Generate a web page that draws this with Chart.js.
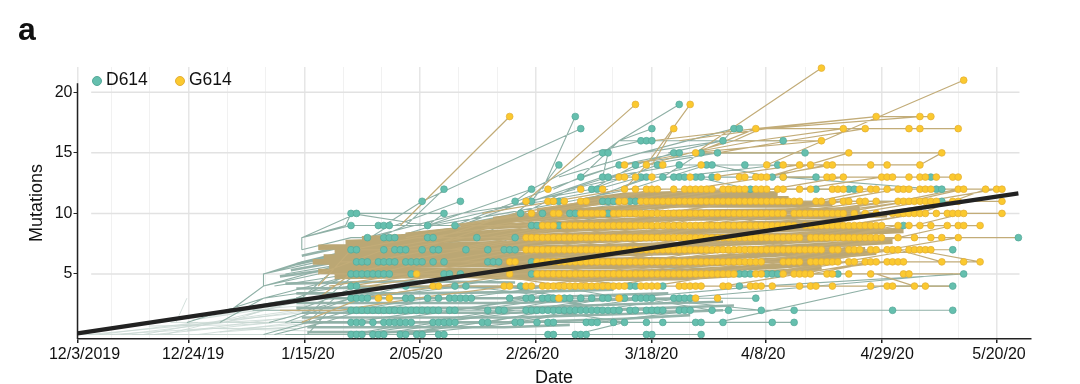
<!DOCTYPE html>
<html>
<head>
<meta charset="utf-8">
<script src="https://cdn.jsdelivr.net/npm/chart.js@4"></script>
<style>
  html, body { margin: 0; background: #fff; }
  body { width: 1080px; height: 384px; overflow: hidden; position: relative; font-family: "Liberation Sans", sans-serif; color: #111; }
  #wrap { position: absolute; left: 0; top: 0; width: 1080px; height: 384px; }
  #panel { position: absolute; left: 18px; top: 10px; font-size: 32px; font-weight: bold; line-height: 38px; }
  .key { position: absolute; top: 69px; font-size: 17.5px; line-height: 21px; }
  .dot { position: absolute; top: 75.5px; width: 8px; height: 8px; border-radius: 50%; border-width: 0.8px; border-style: solid; }
</style>
</head>
<body>
<div id="wrap"><canvas id="chart" width="1080" height="384"></canvas></div>
<div id="panel">a</div>
<div class="dot" style="left:91.5px;background:#65bfae;border-color:#55a898"></div>
<div class="key" style="left:106px">D614</div>
<div class="dot" style="left:174.5px;background:#fbc92f;border-color:#e3ad35"></div>
<div class="key" style="left:189px">G614</div>
<script>
// axis
const xTickDays = [0, 6.2, 13.2, 20.4, 27.4, 34.4, 41.5, 48.6, 55.6, 62.6, 69.6, 76.7, 83.7, 90.8, 97.8, 104.9, 111.9, 118.9, 125.9, 133, 140, 147, 154, 161, 168.1];
const xTickLabels = ['12/3/2019', '', '', '12/24/19', '', '', '1/15/20', '', '', '2/05/20', '', '', '2/26/20', '', '', '3/18/20', '', '', '4/8/20', '', '', '4/29/20', '', '', '5/20/20'];
const xLabelNudge = [7, 0, 0, 4, 0, 0, 3.5, 0, 0, -4, 0, 0, -3, 0, 0, 0, 0, 0, -3, 0, 0, 5.5, 0, 0, 2];
const yTicks = [5, 10, 15, 20];

// trend line
const trendDays = [0, 172];
const trendMutations = [0.1, 11.66];

// sampled genomes, one list of days per mutation count (index = mutations)
const d614Days = [
  [50, 51, 52, 54, 55, 56, 59, 60, 62, 63, 66, 67, 86, 87, 91, 92, 93, 104, 105, 114],
  [50, 51, 52, 54, 56, 57, 58, 59, 60, 61, 65, 66, 67, 68, 69, 74, 75, 80, 81, 84, 86, 87, 93, 94, 95, 98, 100, 104, 107, 113, 114, 118, 127, 131],
  [50, 51, 52, 53, 54, 55, 56, 57, 58, 59, 60, 61, 62, 63, 64, 65, 66, 68, 69, 75, 77, 78, 82, 83, 84, 85, 86, 87, 88, 89, 90, 91, 92, 93, 94, 95, 96, 97, 98, 99, 101, 102, 104, 105, 106, 107, 110, 111, 112, 116, 119, 125, 131, 149, 160],
  [50, 51, 52, 53, 60, 61, 64, 66, 68, 69, 70, 71, 72, 79, 82, 83, 85, 86, 87, 89, 90, 92, 94, 96, 97, 100, 102, 103, 104, 105, 109, 110, 111, 112, 124],
  [50, 51, 60, 69, 71, 81, 101, 102, 107, 121, 160],
  [50, 51, 52, 53, 54, 55, 56, 57, 61, 67, 68, 70, 83, 121, 122, 123, 126, 127, 128, 139, 162],
  [51, 52, 53, 55, 56, 57, 58, 60, 61, 62, 63, 65, 67, 75, 76, 77, 83],
  [50, 51, 56, 58, 59, 60, 63, 65, 66, 71, 75, 78, 79, 80, 160],
  [53, 56, 57, 58, 64, 65, 73, 80, 172],
  [50, 55, 56, 57, 64, 69, 83, 84, 88, 151],
  [50, 51, 67, 81, 85, 90, 91, 97],
  [63, 70, 80, 83, 88, 96, 97, 98, 101, 102, 158],
  [67, 83, 94, 95, 123, 135, 141, 142, 157, 158],
  [92, 96, 97, 103, 104, 107, 109, 110, 111, 113, 114, 116, 127, 129, 135, 156],
  [88, 99, 102, 106, 110, 115, 116, 122, 128],
  [96, 97, 109, 110, 114, 117, 133],
  [103, 104, 105, 118, 129],
  [92, 105, 120, 121],
  [91],
  [110]
];
const g614Days = [
  [],
  [],
  [],
  [55, 57, 88, 99, 113, 117],
  [65, 66, 78, 79, 82, 83, 85, 86, 87, 88, 89, 90, 91, 92, 93, 94, 95, 96, 97, 98, 99, 100, 103, 104, 105, 106, 110, 111, 112, 113, 114, 118, 119, 123, 124, 125, 127, 132, 134, 135, 138, 145, 148, 149, 153, 155],
  [62, 79, 84, 85, 86, 87, 88, 89, 90, 91, 92, 93, 94, 95, 96, 97, 98, 99, 100, 101, 102, 103, 104, 105, 106, 107, 108, 109, 110, 111, 112, 113, 114, 115, 116, 117, 118, 119, 120, 124, 125, 129, 131, 132, 133, 134, 137, 138, 141, 145, 151, 152],
  [79, 80, 84, 85, 86, 87, 88, 89, 90, 91, 92, 93, 94, 95, 96, 97, 98, 99, 100, 101, 102, 103, 104, 105, 106, 107, 108, 109, 110, 111, 112, 113, 114, 115, 116, 117, 118, 119, 120, 121, 122, 123, 124, 125, 129, 130, 131, 132, 134, 135, 136, 137, 138, 139, 141, 142, 144, 145, 146, 148, 149, 150, 151, 158, 162, 165],
  [82, 83, 84, 85, 86, 87, 88, 89, 90, 91, 92, 93, 94, 95, 96, 97, 98, 99, 100, 101, 102, 103, 104, 105, 106, 107, 108, 109, 110, 111, 112, 113, 114, 115, 116, 117, 118, 119, 120, 121, 122, 123, 124, 125, 126, 127, 128, 129, 130, 131, 132, 133, 134, 135, 136, 138, 139, 141, 142, 143, 145, 146, 148, 149, 150, 152, 153, 154, 155, 156],
  [82, 83, 84, 85, 86, 87, 88, 89, 90, 91, 92, 93, 94, 95, 96, 97, 98, 99, 100, 101, 102, 103, 104, 105, 106, 107, 108, 109, 110, 111, 112, 113, 114, 115, 116, 117, 118, 119, 120, 121, 122, 123, 124, 125, 126, 127, 128, 129, 130, 131, 132, 134, 135, 136, 137, 138, 139, 140, 141, 142, 143, 144, 145, 146, 147, 150, 153, 156, 158, 161],
  [85, 86, 87, 89, 90, 91, 92, 93, 94, 95, 96, 97, 98, 99, 100, 101, 102, 103, 104, 105, 106, 107, 108, 109, 110, 111, 112, 113, 114, 115, 116, 117, 118, 119, 120, 121, 122, 123, 124, 125, 126, 127, 128, 129, 130, 131, 133, 134, 135, 136, 137, 138, 139, 140, 141, 142, 143, 144, 145, 146, 147, 150, 152, 154, 156, 159, 161, 162, 165],
  [83, 87, 88, 92, 93, 94, 95, 96, 98, 99, 100, 101, 102, 103, 104, 105, 106, 107, 108, 109, 110, 111, 112, 113, 114, 115, 116, 117, 118, 119, 120, 121, 122, 123, 124, 125, 126, 127, 128, 129, 131, 132, 133, 134, 135, 136, 137, 138, 139, 140, 142, 144, 146, 149, 150, 151, 152, 153, 154, 155, 157, 159, 160, 161, 162, 169],
  [82, 86, 87, 89, 92, 93, 99, 100, 103, 104, 105, 106, 107, 108, 109, 110, 111, 112, 113, 114, 115, 116, 117, 118, 119, 120, 121, 122, 123, 124, 125, 126, 127, 128, 129, 130, 131, 132, 135, 136, 138, 140, 141, 143, 144, 146, 150, 151, 152, 153, 154, 155, 156, 157, 160, 161, 169],
  [86, 92, 96, 100, 102, 104, 105, 106, 109, 111, 112, 113, 114, 115, 116, 118, 119, 120, 121, 122, 124, 125, 126, 128, 129, 132, 134, 138, 139, 140, 143, 145, 146, 148, 150, 151, 152, 154, 155, 156, 161, 162, 166, 168, 169],
  [99, 100, 102, 105, 112, 117, 121, 122, 124, 125, 126, 129, 137, 138, 140, 147, 148, 149, 152, 154, 155, 157, 160, 161],
  [100, 104, 107, 114, 126, 129, 132, 134, 137, 138, 145, 148, 154],
  [113, 141, 158],
  [136],
  [109, 124, 140, 144, 152, 154, 161],
  [79, 146, 154, 156],
  [102, 112],
  [],
  [162],
  [136]
];

// ancestry links as [day, mutations, day, mutations, ...] paths
const paleLinks = [
  [0, 0, 30, 0, 50, 0], [2, 0, 26, 1, 41, 1], [10, 0, 41, 0], [14, 0, 36, 1], [18, 1, 20, 3], [15, 1, 28, 2],
  [12, 0, 24, 1, 40, 2], [4, 0, 22, 1], [8, 0, 27, 1, 41, 3], [16, 0, 34, 2, 41, 2], [22, 0, 40, 1], [17, 1, 30, 1, 42, 1],
  [6, 0, 24, 0.5, 40, 0.5], [20, 0.3, 40, 1.5], [24, 1.5, 40, 2.6], [26, 0.2, 41, 0.7], [28, 1.2, 41, 1.8], [21, 1.2, 36, 2.2, 42, 2.4],
  [13, 0.7, 30, 0.8, 42, 1.2], [19, 0.8, 38, 1.3], [23, 0.8, 42, 2], [25, 0.5, 42, 0.3], [30, 0.5, 42, 0.9], [31, 1.6, 41, 2.8]
];
const d614CoreLinks = [
  [42, 0.2, 56, 0.2, 66, 0.3],
  [42, 0.6, 60, 0.6, 78, 0.6, 90, 0.8],
  [41, 1, 60, 1, 80, 1, 100, 1.3, 112, 1.6],
  [41, 1.4, 60, 1.4, 80, 1.4, 100, 1.7, 118, 2],
  [41, 1.8, 60, 1.8, 80, 1.8, 100, 2.1, 120, 2.4],
  [40, 2.2, 60, 2.2, 80, 2.2, 100, 2.5, 118, 2.7],
  [40, 2.6, 60, 2.6, 80, 2.6, 100, 2.9, 112, 3],
  [40, 3, 60, 3, 80, 3, 100, 3.3, 108, 3.4],
  [40, 3.4, 60, 3.4, 80, 3.5, 98, 3.7],
  [40, 3.8, 60, 3.9, 80, 3.9, 95, 4],
  [38, 4.2, 60, 4.4, 80, 4.3],
  [37, 4.8, 50, 5.6], [39, 5.3, 50, 6.2], [40, 5.8, 50, 6.8], [41, 6.5, 50, 7.4]
];
const g614CoreLinks = [
  [47, 4.8, 70, 4.9, 90, 4.6, 110, 4.7, 130, 5.2, 136, 5.6],
  [44, 5.2, 70, 5.3, 90, 5.1, 110, 5.2, 130, 5.7, 139, 6.2],
  [46, 5.6, 70, 5.8, 90, 5.6, 110, 5.7, 130, 6.2, 146, 6.8],
  [43, 6, 70, 6.2, 90, 6.1, 110, 6.2, 130, 6.7, 144, 7],
  [45, 6.4, 70, 6.6, 90, 6.6, 110, 6.8, 130, 7.2, 149, 7.7],
  [47, 6.8, 70, 7, 90, 7.2, 110, 7.4, 130, 7.7, 142, 8],
  [44, 7.2, 70, 7.4, 90, 7.7, 110, 8, 130, 8.2, 151, 8.6],
  [49, 7.6, 70, 7.9, 90, 8.2, 110, 8.5, 130, 8.7, 146, 8.9],
  [52, 7.9, 70, 8.3, 90, 8.7, 110, 9, 130, 9.2, 140, 9.3],
  [60, 8.2, 75, 8.9, 90, 9.2, 110, 9.6, 130, 9.7, 148, 9.9],
  [70, 8.9, 80, 9.5, 90, 9.7, 110, 10.1, 130, 10.2, 143, 10.3],
  [76, 9.5, 90, 10.2, 110, 10.7, 130, 10.7, 138, 10.8],
  [84, 10.2, 95, 10.9, 110, 11.2, 130, 11.2],
  [92, 11, 100, 11.5, 115, 11.7, 128, 11.6]
];
const d614Links = [
  [20, 1, 34, 3, 50, 4], [26, 1, 34, 3, 51, 5], [28, 2, 34, 4, 50, 6], [34, 4, 34, 5, 50, 7], [34, 5, 41, 6, 50, 7], [34, 4, 44, 5, 51, 6],
  [34, 5, 44, 6, 51, 7], [36, 4, 50, 5], [38, 5, 51, 6], [41, 7, 41, 8, 49, 9, 50, 10], [41, 7, 50, 8, 58, 8], [41, 8, 50, 9, 57, 9], [41, 8, 51, 10],
  [30, 2, 44, 3, 52, 3], [28, 2, 40, 3, 50, 3], [32, 2, 42, 2, 50, 3], [35, 1, 43, 2, 51, 2], [34, 0, 42, 1, 50, 2], [36, 0, 45, 1, 52, 2],
  [38, 1, 44, 2, 50, 3], [38, 0, 45, 0, 51, 0], [39, 1, 46, 1, 50, 1], [40, 2, 46, 3, 51, 4], [40, 3, 45, 4, 50, 5], [42, 1, 47, 3, 51, 3], [42, 0, 46, 2, 50, 2], [43, 2, 48, 4, 51, 5], [41, 3, 46, 5, 50, 6],
  [50, 0, 62, 1, 74, 1, 87, 2, 105, 2, 116, 2],
  [50, 0, 60, 0, 70, 1, 87, 1, 95, 1, 113, 2],
  [50, 1, 65, 2, 78, 2, 92, 2, 110, 2],
  [51, 1, 63, 1, 81, 1, 93, 1, 107, 1],
  [51, 0, 66, 1, 84, 2, 99, 2, 118, 2],
  [52, 0, 67, 0, 86, 0, 104, 0, 114, 0],
  [52, 2, 66, 2, 82, 2, 96, 3, 111, 3],
  [54, 1, 69, 2, 84, 3, 97, 3, 112, 3],
  [53, 2, 68, 3, 83, 3, 100, 3, 124, 3],
  [50, 2, 64, 3, 79, 3, 92, 3, 109, 3],
  [51, 2, 62, 2, 75, 2, 88, 2, 104, 3, 125, 2],
  [55, 0, 68, 1, 80, 1, 94, 2, 107, 2, 131, 2],
  [56, 1, 75, 1, 86, 2, 101, 2, 112, 2],
  [59, 0, 74, 1, 87, 1, 98, 1, 118, 1],
  [60, 0, 81, 1, 93, 1, 113, 1, 127, 1],
  [62, 0, 75, 0, 91, 0, 105, 0],
  [63, 1, 78, 2, 90, 3, 103, 3, 116, 2],
  [66, 1, 80, 2, 94, 2, 110, 2, 119, 2, 149, 2],
  [68, 2, 85, 2, 97, 3, 112, 3],
  [69, 2, 82, 3, 96, 3, 105, 3],
  [50, 3, 68, 4, 85, 4, 101, 4],
  [50, 4, 69, 4, 83, 5, 102, 4],
  [51, 3, 60, 4, 78, 4, 90, 3, 102, 3],
  [52, 3, 71, 4, 89, 3, 104, 3],
  [60, 3, 72, 3, 86, 3, 98, 2, 112, 2],
  [64, 3, 79, 3, 92, 4, 105, 4],
  [66, 3, 83, 3, 94, 3, 109, 3],
  [70, 3, 87, 4, 100, 3, 111, 3],
  [72, 2, 88, 3, 102, 3, 124, 3],
  [75, 2, 86, 2, 99, 2, 125, 2],
  [78, 1, 92, 2, 106, 2],
  [80, 1, 93, 1, 108, 1, 131, 1],
  [84, 1, 98, 1, 114, 1],
  [86, 2, 100, 1, 118, 1],
  [91, 0, 100, 1, 114, 1],
  [92, 2, 104, 2, 116, 2],
  [95, 2, 110, 3, 124, 3],
  [104, 2, 119, 2, 125, 2, 131, 2, 160, 2],
  [107, 1, 127, 1, 131, 1],
  [117, 1, 147, 4, 160, 4],
  [100, 3, 125, 4, 162, 5],
  [110, 3, 160, 5],
  [50, 5, 58, 6, 67, 7, 80, 8],
  [51, 5, 61, 7, 73, 8, 80, 8],
  [51, 7, 58, 8, 65, 9, 69, 9, 81, 10],
  [50, 7, 57, 9, 64, 9, 83, 12],
  [50, 10, 64, 9, 67, 10],
  [51, 10, 58, 10, 67, 10],
  [55, 8, 60, 9, 67, 12],
  [56, 9, 63, 11],
  [58, 9, 70, 11],
  [63, 11, 92, 17],
  [57, 9, 69, 9, 80, 10, 83, 11],
  [64, 9, 83, 11, 91, 12],
  [85, 12, 91, 18],
  [83, 11, 88, 14],
  [80, 11, 83, 12, 96, 15],
  [83, 11, 96, 13, 97, 15],
  [87, 12, 92, 13, 99, 16, 110, 19],
  [99, 16, 105, 17],
  [94, 15, 103, 16, 105, 16],
  [96, 15, 99, 16, 118, 16, 129, 16],
  [92, 13, 99, 14, 110, 15],
  [94, 12, 102, 14, 109, 15],
  [95, 12, 103, 13, 107, 13, 114, 15],
  [97, 13, 110, 14, 122, 14],
  [96, 13, 109, 13, 128, 14],
  [104, 14, 117, 15, 133, 15],
  [103, 15, 120, 17, 121, 17],
  [108, 15, 118, 16, 120, 17],
  [88, 13, 103, 15, 118, 16],
  [110, 14, 116, 14, 127, 13, 135, 13],
  [113, 13, 123, 12, 135, 12, 141, 12, 142, 12],
  [114, 13, 129, 13, 157, 12],
  [80, 8, 98, 10, 115, 11, 158, 11],
  [67, 5, 95, 6, 121, 5, 128, 5],
  [70, 5, 100, 6, 126, 5, 139, 5],
  [53, 8, 70, 10, 85, 11, 97, 12],
  [56, 8, 72, 9, 88, 10, 102, 11],
  [65, 9, 78, 10, 90, 11, 101, 12, 115, 14],
  [64, 8, 82, 11, 94, 12, 106, 14],
  [69, 9, 86, 12, 99, 14, 116, 15],
  [73, 8, 90, 12, 104, 14],
  [75, 7, 92, 11, 105, 13, 113, 13],
  [90, 12, 100, 13, 110, 13, 127, 13],
  [93, 11, 104, 13, 114, 14, 128, 14]
];
const g614Links = [
  [59, 9, 79, 18],
  [82, 11, 102, 19],
  [100, 12, 104, 14, 112, 19],
  [105, 14, 109, 17],
  [113, 15, 136, 22],
  [126, 14, 162, 21],
  [104, 14, 120, 16, 136, 16],
  [105, 16, 124, 17, 146, 18, 154, 18, 156, 18],
  [110, 16, 126, 17, 154, 18],
  [113, 15, 124, 17, 140, 17, 152, 17],
  [117, 15, 130, 16, 144, 17, 154, 17, 161, 17],
  [120, 16, 125, 17, 146, 18],
  [100, 14, 124, 16, 140, 17],
  [112, 15, 136, 16],
  [113, 15, 141, 15, 158, 15],
  [126, 13, 141, 15],
  [129, 14, 145, 14, 154, 14],
  [116, 13, 132, 14, 148, 14],
  [126, 13, 137, 14, 154, 14, 158, 15],
  [125, 13, 138, 14],
  [129, 13, 137, 13, 149, 13, 157, 13, 161, 13],
  [127, 12, 140, 13, 152, 13, 155, 13],
  [132, 12, 147, 13, 160, 13],
  [134, 12, 145, 12, 152, 12, 158, 12, 162, 12, 166, 12, 169, 12],
  [140, 12, 150, 12, 161, 12, 168, 12],
  [135, 11, 146, 12, 157, 12],
  [138, 11, 150, 11, 161, 11, 169, 11],
  [144, 11, 157, 11, 169, 11],
  [146, 10, 155, 10, 162, 10, 169, 10],
  [150, 10, 160, 10, 169, 10],
  [146, 9, 156, 9, 162, 9, 165, 9],
  [147, 9, 161, 9],
  [147, 8, 158, 8, 161, 8, 172, 8],
  [146, 7, 156, 7, 160, 7],
  [146, 6, 158, 6, 162, 6, 165, 6],
  [138, 5, 152, 5, 162, 5],
  [135, 4, 145, 4, 149, 4, 155, 4, 160, 4],
  [104, 4, 127, 4, 138, 4],
  [136, 7, 150, 8, 160, 9],
  [138, 8, 153, 9, 162, 10],
  [140, 9, 154, 10, 166, 12],
  [134, 9, 150, 10, 161, 11],
  [142, 10, 155, 11, 168, 12],
  [133, 6, 150, 7, 158, 6],
  [136, 10, 152, 11, 162, 12],
  [140, 6, 153, 7, 165, 6],
  [132, 7, 148, 7, 161, 8],
  [130, 5, 148, 6, 158, 6],
  [128, 5, 146, 5, 153, 4],
  [44, 3, 50, 5, 64, 5],
  [41, 1, 52, 3, 66, 4],
  [37, 2, 48, 2, 62, 3, 79, 4],
  [44, 4, 50, 7, 60, 7],
  [46, 4, 60, 5, 72, 5, 85, 6, 98, 6, 110, 7, 122, 7, 134, 8, 146, 8, 158, 8],
  [47, 5, 61, 5, 74, 6, 86, 6, 100, 7, 114, 7, 126, 8, 138, 8, 150, 9, 162, 9],
  [48, 6, 58, 6, 71, 7, 84, 7, 97, 8, 109, 8, 123, 9, 135, 9, 149, 10, 161, 10],
  [44, 5, 56, 7, 68, 7, 80, 8, 93, 8, 105, 9, 118, 9, 130, 10, 142, 10, 155, 11],
  [50, 7, 62, 8, 75, 8, 87, 9, 99, 9, 113, 10, 125, 10, 139, 11, 150, 11, 161, 12],
  [52, 5, 66, 5, 79, 5, 94, 5, 108, 6, 121, 6, 136, 6, 148, 7, 155, 7],
  [54, 5, 64, 6, 78, 6, 91, 6, 105, 7, 118, 7, 131, 7, 145, 8, 158, 8],
  [56, 6, 70, 6, 82, 7, 95, 7, 106, 8, 120, 8, 133, 8, 147, 9, 159, 9],
  [53, 6, 65, 7, 76, 7, 89, 8, 103, 8, 116, 9, 128, 9, 141, 9, 154, 10],
  [49, 5, 60, 6, 73, 6, 88, 7, 102, 7, 115, 8, 129, 8, 144, 9, 156, 9],
  [55, 7, 67, 8, 79, 8, 92, 9, 104, 9, 117, 10, 131, 10, 146, 10, 160, 11],
  [57, 7, 69, 7, 83, 8, 96, 8, 110, 9, 124, 9, 138, 10, 152, 10],
  [58, 7, 71, 8, 84, 9, 98, 9, 111, 10, 127, 10, 140, 11, 156, 11],
  [60, 8, 72, 9, 85, 9, 97, 10, 112, 11, 125, 11, 137, 11, 150, 12],
  [62, 7, 76, 9, 89, 10, 101, 10, 116, 11, 130, 11, 146, 11],
  [64, 8, 78, 9, 92, 10, 103, 11, 119, 12, 133, 12, 147, 12],
  [66, 8, 80, 10, 93, 11, 106, 12, 120, 12, 132, 12],
  [68, 9, 83, 10, 96, 11, 108, 11, 123, 12, 138, 12],
  [70, 9, 84, 10, 99, 11, 114, 12, 128, 12],
  [74, 10, 87, 11, 100, 12, 112, 12, 126, 13],
  [50, 4, 63, 5, 77, 5, 90, 5, 104, 5, 117, 6, 130, 6, 142, 7],
  [51, 4, 66, 4, 81, 5, 95, 5, 110, 5, 124, 6, 137, 7, 149, 7],
  [53, 4, 68, 5, 83, 5, 97, 4, 111, 5, 125, 5, 139, 6, 151, 6],
  [55, 4, 70, 4, 84, 4, 99, 5, 113, 5, 127, 5, 141, 6, 150, 6],
  [58, 4, 73, 5, 87, 5, 100, 4, 118, 4, 132, 5, 145, 6],
  [61, 5, 75, 5, 89, 4, 105, 4, 119, 5, 134, 5, 146, 6],
  [63, 6, 77, 6, 90, 6, 106, 6, 120, 7, 135, 7, 149, 8],
  [65, 6, 79, 7, 93, 7, 107, 7, 123, 7, 136, 8, 152, 8],
  [67, 6, 81, 6, 96, 7, 108, 7, 122, 8, 137, 8, 153, 9],
  [69, 6, 82, 6, 94, 6, 109, 6, 124, 7, 138, 7, 150, 8],
  [71, 7, 85, 8, 99, 8, 112, 9, 126, 9, 140, 9, 155, 9],
  [73, 7, 86, 7, 101, 8, 115, 8, 129, 9, 143, 9, 158, 9],
  [75, 7, 88, 8, 102, 9, 116, 9, 130, 9, 144, 10, 157, 10],
  [77, 8, 90, 9, 103, 10, 118, 10, 132, 10, 148, 11, 160, 11],
  [79, 8, 91, 8, 105, 10, 119, 10, 134, 10, 149, 11],
  [81, 9, 94, 10, 107, 10, 121, 11, 135, 11, 151, 11],
  [82, 9, 95, 10, 109, 11, 122, 11, 136, 11, 150, 11],
  [84, 8, 97, 9, 111, 9, 125, 10, 139, 10, 152, 11],
  [85, 6, 98, 7, 112, 8, 126, 8, 141, 8, 148, 9],
  [86, 5, 100, 6, 113, 6, 127, 7, 142, 7, 151, 7],
  [87, 5, 101, 5, 114, 6, 128, 6, 143, 6, 149, 6],
  [88, 4, 102, 5, 115, 5, 129, 6, 144, 6],
  [90, 7, 104, 8, 117, 9, 131, 9, 146, 9],
  [92, 8, 106, 9, 120, 10, 133, 10, 147, 10],
  [94, 9, 108, 10, 121, 11, 134, 11, 149, 11],
  [95, 11, 107, 12, 120, 12, 136, 12, 152, 12],
  [96, 6, 110, 7, 125, 8, 140, 8],
  [97, 5, 111, 6, 124, 6, 139, 7],
  [98, 10, 112, 11, 126, 11, 142, 11],
  [99, 7, 113, 8, 127, 8, 142, 9],
  [100, 8, 114, 9, 128, 10, 143, 10],
  [101, 9, 115, 10, 129, 10, 145, 11],
  [103, 6, 116, 7, 131, 7, 146, 8],
  [104, 5, 118, 6, 133, 6, 148, 6],
  [105, 8, 119, 8, 135, 9, 150, 9],
  [107, 11, 122, 12, 138, 12]
];

// turn the paths into one line dataset with gaps between them
function linksToPoints(links) {
  const pts = [];
  links.forEach(path => {
    for (let i = 0; i < path.length; i += 2) pts.push({x: path[i], y: path[i + 1]});
    pts.push({x: path[path.length - 2], y: null});
  });
  return pts;
}
function daysToPoints(rows) {
  const pts = [];
  rows.forEach((days, mutations) => days.forEach(day => pts.push({x: day, y: mutations})));
  return pts;
}

// short y axis line and horizontal grid that stop before the plot edges
const axisBits = {
  id: 'axisBits',
  beforeDatasetsDraw(chart) {
    const {ctx, scales} = chart;
    ctx.save();
    ctx.strokeStyle = '#e2e2e2';
    ctx.lineWidth = 1.5;
    yTicks.forEach(v => {
      const py = scales.y.getPixelForValue(v);
      ctx.beginPath();
      ctx.moveTo(scales.x.getPixelForValue(2.5), py);
      ctx.lineTo(scales.x.getPixelForValue(172.2), py);
      ctx.stroke();
    });
    ctx.restore();
  },
  afterDatasetsDraw(chart) {
    const {ctx, scales} = chart;
    ctx.save();
    ctx.strokeStyle = '#222';
    ctx.lineWidth = 1.5;
    ctx.beginPath();
    ctx.moveTo(scales.x.left, scales.y.getPixelForValue(20.75));
    ctx.lineTo(scales.x.left, scales.y.bottom);
    ctx.stroke();
    ctx.restore();
  },
  beforeDraw(chart) {
    // date labels sit a bit off their ticks in the original
    chart.scales.x.getLabelItems().forEach((item, i) => {
      if (!item.nudged) {
        item.options.translation[0] += xLabelNudge[i] || 0;
        item.nudged = true;
      }
    });
  }
};

const tickFont = {family: '"Liberation Sans", sans-serif', size: 16};
const ctx = document.getElementById('chart').getContext('2d');
const myChart = new Chart(ctx, {
  type: 'line',
  data: {
    datasets: [
      {label: 'trend', data: trendDays.map((d, i) => ({x: d, y: trendMutations[i]})), borderColor: '#222', borderWidth: 4.2, pointRadius: 0, order: 0, clip: false},
      {label: 'G614', data: daysToPoints(g614Days), showLine: false, pointRadius: 3.4, pointBackgroundColor: '#fbc92f', pointBorderColor: '#e3ad35', pointBorderWidth: 0.7, order: 1, clip: false},
      {label: 'D614', data: daysToPoints(d614Days), showLine: false, pointRadius: 3.4, pointBackgroundColor: '#65bfae', pointBorderColor: '#55a898', pointBorderWidth: 0.7, order: 2, clip: false},
      {label: 'G614 links', data: linksToPoints(g614Links), borderColor: '#c2ac78', borderWidth: 1.2, pointRadius: 0, spanGaps: false, order: 3},
      {label: 'G614 dense links', data: linksToPoints(g614CoreLinks), borderColor: '#bba774', borderWidth: 5.6, pointRadius: 0, spanGaps: false, order: 4},
      {label: 'D614 links', data: linksToPoints(d614Links), borderColor: '#8fb0a6', borderWidth: 1.1, pointRadius: 0, spanGaps: false, order: 5},
      {label: 'D614 dense links', data: linksToPoints(d614CoreLinks), borderColor: '#95b3aa', borderWidth: 2.6, pointRadius: 0, spanGaps: false, order: 6},
      {label: 'early links', data: linksToPoints(paleLinks), borderColor: '#c9d8d3', borderWidth: 0.8, pointRadius: 0, spanGaps: false, order: 7}
    ]
  },
  options: {
    responsive: false,
    animation: false,
    parsing: false,
    normalized: false,
    layout: {padding: {left: 0, right: 49.3, top: 67, bottom: 0}},
    plugins: {legend: {display: false}, tooltip: {enabled: false}},
    elements: {line: {tension: 0}},
    scales: {
      x: {
        type: 'linear',
        min: 0,
        max: 174.25,
        afterFit(scale) { scale.height = 45; },
        afterBuildTicks(scale) { scale.ticks = xTickDays.map(v => ({value: v})); },
        afterTickToLabelConversion(scale) { scale.ticks.forEach((t, i) => { t.label = xTickLabels[i]; }); },
        grid: {
          color: c => (c.tick && xTickLabels[xTickDays.indexOf(c.tick.value)] ? '#e6e6e6' : '#f1f1f1'),
          lineWidth: c => (c.tick && xTickLabels[xTickDays.indexOf(c.tick.value)] ? 1.5 : 1),
          tickColor: c => (c.tick && xTickLabels[xTickDays.indexOf(c.tick.value)] ? '#222' : 'rgba(0,0,0,0)'),
          tickLength: 4
        },
        border: {display: true, color: '#222', width: 1.5},
        ticks: {font: tickFont, color: '#111', autoSkip: false, maxRotation: 0, minRotation: 0, padding: 2},
        title: {display: true, text: 'Date', color: '#111', font: {family: tickFont.family, size: 18}, padding: {top: 0, bottom: -5}}
      },
      y: {
        min: -0.37,
        max: 22.09,
        afterFit(scale) { scale.width = 77.5; },
        afterBuildTicks(scale) { scale.ticks = yTicks.map(v => ({value: v})); },
        grid: {drawOnChartArea: false, tickLength: 4, tickColor: '#222'},
        border: {display: false},
        ticks: {font: tickFont, color: '#111', padding: 1},
        title: {display: true, text: 'Mutations', color: '#111', font: {family: tickFont.family, size: 18}, padding: {top: 26, bottom: 0}}
      }
    }
  },
  plugins: [axisBits]
});
</script>
</body>
</html>
